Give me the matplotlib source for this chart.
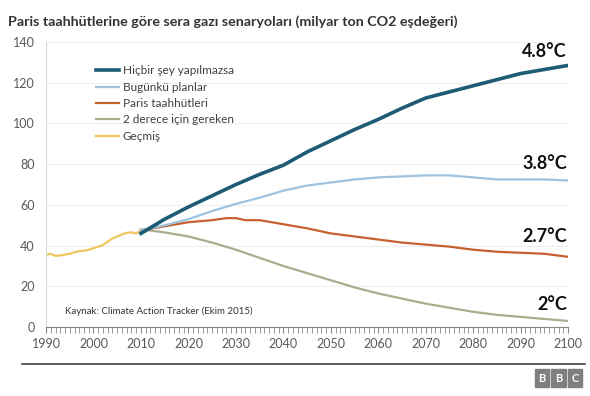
import matplotlib.pyplot as plt
from matplotlib.patches import Rectangle
from matplotlib.lines import Line2D
import numpy as np

plt.rcParams['font.family'] = ['Lato', 'DejaVu Sans']

# --- data ---
hist_years = [1990, 1991, 1992, 1993, 1994, 1995, 1996, 1997, 1998, 1999, 2000,
              2001, 2002, 2003, 2004, 2005, 2006, 2007, 2008, 2009, 2010, 2011]
hist_vals = [35.5, 36.0, 35.0, 35.2, 35.6, 36.0, 36.8, 37.3, 37.5, 38.0, 38.7,
             39.5, 40.3, 42.0, 43.5, 44.5, 45.5, 46.3, 46.5, 46.0, 47.5, 48.0]

proj_years = [2010, 2015, 2020, 2025, 2030, 2035, 2040, 2045, 2050, 2055,
              2060, 2065, 2070, 2075, 2080, 2085, 2090, 2095, 2100]
nothing_vals = [46.0, 53.0, 59.0, 64.5, 70.0, 75.0, 79.5, 86.0, 91.5, 97.0,
                102.0, 107.5, 112.5, 115.5, 118.5, 121.5, 124.5, 126.5, 128.5]
current_vals = [47.5, 50.0, 53.0, 57.0, 60.5, 63.5, 67.0, 69.5, 71.0, 72.5,
                73.5, 74.0, 74.5, 74.5, 73.5, 72.5, 72.5, 72.5, 72.0]
two_deg_vals = [48.0, 46.5, 44.5, 41.5, 38.0, 34.0, 30.0, 26.5, 23.0, 19.5,
                16.5, 14.0, 11.5, 9.5, 7.5, 6.0, 5.0, 4.0, 3.0]

paris_years = [2010, 2015, 2020, 2025, 2028, 2030, 2032, 2035, 2040, 2045, 2050,
               2055, 2060, 2065, 2070, 2075, 2080, 2085, 2090, 2095, 2100]
paris_vals = [47.5, 49.5, 51.5, 52.5, 53.5, 53.5, 52.5, 52.5, 50.5, 48.5, 46.0,
              44.5, 43.0, 41.5, 40.5, 39.5, 38.0, 37.0, 36.5, 36.0, 34.5]

labels = ["Hiçbir şey yapılmazsa", "Bugünkü planlar", "Paris taahhütleri",
          "2 derece için gereken", "Geçmiş"]
colors = ["#1e5b74", "#9dc3e0", "#c5602f", "#a8ae8d", "#f0c75e"]
end_labels = ["4.8°C", "3.8°C", "2.7°C", "2°C"]

fig = plt.figure(figsize=(5.9, 3.96), dpi=100)
ax = fig.add_axes([0.078, 0.174, 0.885, 0.72])

ax.plot(hist_years, hist_vals, color=colors[4], lw=1.6, label=labels[4])
ax.plot(proj_years, two_deg_vals, color=colors[3], lw=1.6, label=labels[3])
ax.plot(paris_years, paris_vals, color=colors[2], lw=1.6, label=labels[2])
ax.plot(proj_years, current_vals, color=colors[1], lw=1.6, label=labels[1])
ax.plot(proj_years, nothing_vals, color=colors[0], lw=2.6, label=labels[0])

ax.set_xlim(1990, 2100)
ax.set_ylim(0, 140)
ax.set_xticks(np.arange(1990, 2101, 10))
ax.set_xticks(np.arange(1990, 2101, 1), minor=True)
ax.set_yticks(np.arange(0, 141, 20))
ax.grid(axis='y', color='#eeeeee', lw=0.8)
ax.set_axisbelow(True)
for s in ['top', 'right']:
    ax.spines[s].set_visible(False)
ax.spines['left'].set_color('#d9d9d9')
ax.spines['bottom'].set_color('#888888')
ax.tick_params(axis='y', length=0, labelsize=9, labelcolor='#595959', pad=8)
ax.tick_params(axis='x', which='both', direction='out', color='#888888',
               labelsize=9, labelcolor='#595959')
ax.tick_params(axis='x', which='major', length=4)
ax.tick_params(axis='x', which='minor', length=4)

# legend in the reference order
handles = [Line2D([], [], color=colors[0], lw=2.6)] + \
          [Line2D([], [], color=c, lw=1.6) for c in colors[1:]]
leg = ax.legend(handles, labels, loc='upper left', bbox_to_anchor=(0.075, 0.955),
                frameon=False, fontsize=8.5, handlelength=2.0, handletextpad=0.3,
                labelspacing=0.45)
for t in leg.get_texts():
    t.set_color('#404040')

# end labels, offsets in points above the line end
ends = [nothing_vals[-1], current_vals[-1], paris_vals[-1], two_deg_vals[-1]]
offs = [10, 12, 14.5, 12]
for txt, yv, dy in zip(end_labels, ends, offs):
    ax.annotate(txt, xy=(2100, yv), xytext=(-1, dy), textcoords='offset points',
                ha='right', va='center', fontsize=13, fontweight='bold', color='#111111')

ax.text(0.037, 0.056, "Kaynak: Climate Action Tracker (Ekim 2015)", transform=ax.transAxes,
        fontsize=7, color='#333333', va='center')

fig.text(0.014, 0.945, "Paris taahhütlerine göre sera gazı senaryoları (milyar ton CO2 eşdeğeri)",
         fontsize=10.3, fontweight='bold', color='#333333', va='center')

# bottom rule and BBC blocks
fig.add_artist(Line2D([0.037, 0.992], [0.081, 0.081], color='#444444', lw=1.2))
for i, letter in enumerate("BBC"):
    x0 = 0.906 + i * 0.028
    fig.add_artist(Rectangle((x0, 0.022), 0.025, 0.045, color='#7f7f7f'))
    fig.text(x0 + 0.0125, 0.0445, letter, ha='center', va='center', color='white',
             fontsize=8, fontweight='bold')

fig.savefig('out.png', dpi=100)
